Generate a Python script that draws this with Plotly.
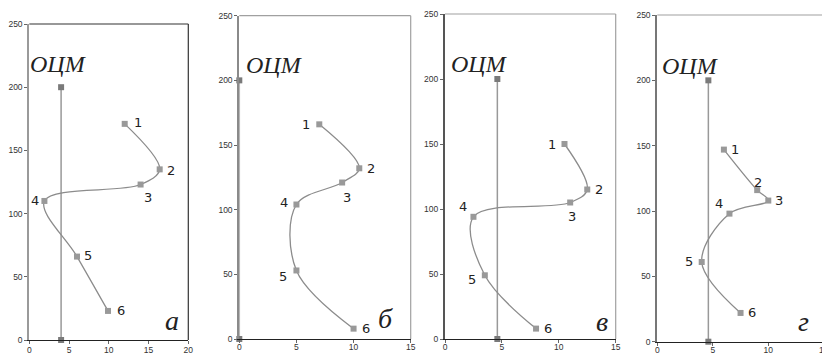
import plotly.graph_objects as go

# ---- data ----
panel_letters = ["а", "б", "в", "г"]
point_labels = ["1", "2", "3", "4", "5", "6"]

a_x = [12.0, 16.4, 14.0, 1.9, 6.0, 9.9]
a_y = [171, 135, 123, 110, 66, 23]
b_x = [7.0, 10.5, 9.0, 5.0, 5.0, 10.0]
b_y = [166, 132, 121, 104, 53, 8]
c_x = [10.5, 12.5, 11.0, 2.5, 3.5, 8.0]
c_y = [150, 115, 105, 94, 49, 8]
d_x = [6.0, 9.0, 10.0, 6.5, 4.0, 7.5]
d_y = [147, 116, 108, 98, 61, 22]

ocm_x = [4.0, 0.0, 4.6, 4.6]          # ОЦМ vertical position per panel
ocm_y = [0, 200]                       # ОЦМ bottom and top
x_ticks = [[0, 5, 10, 15, 20], [0, 5, 10, 15], [0, 5, 10, 15], [0, 5, 10]]
y_ticks = [0, 50, 100, 150, 200, 250]

# label offsets (px) for points 1..6 in each panel
label_dx = [[13, 11, 7, -9, 11, 13], [-13, 12, 5, -12, -13, 12],
            [-12, 12, 2, -10, -13, 12], [11, 1, 11, -10, -13, 11]]
label_dy = [[1, -1, -13, 0, 1, 0], [0, 0, -15, 2, -6, 0],
            [0, 0, -14, 10, -4, 0], [0, 8, 0, 10, 0, 0]]

xs = [a_x, b_x, c_x, d_x]
ys = [a_y, b_y, c_y, d_y]

W, H = 822, 356
# pixel boxes: left, right, top, bottom
boxes = [(29.3, 188.3, 24, 340), (239.3, 410.7, 15.7, 339),
         (445, 615.7, 14, 339), (657.3, 822, 15, 341.7)]
x_range_max = [20, 15, 15, (822 - 657.3) / 11.1]
ocm_pos = [(58.3, 64), (274.7, 65), (479.5, 64), (690.5, 65.7)]   # px centres
letter_pos = [(171.7, 320), (385, 318), (601.7, 321.7), (803, 321.7)]
box_col = ["#333333", "#a0a0a0", "#a0a0a0", "#a0a0a0"]
left_col = ["#9a9a9a", "#8a8a8a", "#555555", "#777777"]
x_standoff = [-1, -3, -3, -3]

fig = go.Figure()
annotations = []
shapes = []
layout = {}
for i in range(4):
    sfx = "" if i == 0 else str(i + 1)
    xa, ya = "x" + sfx, "y" + sfx
    l, r, t, b = boxes[i]
    layout["xaxis" + sfx] = dict(
        domain=[l / W, r / W], range=[0, x_range_max[i]], anchor=ya,
        tickvals=x_ticks[i], ticks="outside", ticklen=3, tickcolor="#666",
        ticklabelstandoff=x_standoff[i],
        showline=True, linecolor="#222", linewidth=1.3, showgrid=False,
        zeroline=False, tickfont=dict(family="Liberation Sans", size=8.5, color="#333"),
        automargin=False, fixedrange=True)
    layout["yaxis" + sfx] = dict(
        domain=[1 - b / H, 1 - t / H], range=[0, 250], anchor=xa,
        tickvals=y_ticks, ticks="outside", ticklen=3, tickcolor="#666",
        showline=True, linecolor=left_col[i], linewidth=2, showgrid=False,
        zeroline=False, tickfont=dict(family="Liberation Sans", size=8.5, color="#333"),
        automargin=False, fixedrange=True)
    # top and right borders
    shapes.append(dict(type="line", xref=xa + " domain", yref=ya + " domain",
                       x0=0, x1=1, y0=1, y1=1, line=dict(color=box_col[i], width=1.2)))
    if i < 3:
        shapes.append(dict(type="line", xref=xa + " domain", yref=ya + " domain",
                           x0=1, x1=1, y0=0, y1=1, line=dict(color=box_col[i], width=1.2)))
    # ОЦМ line
    fig.add_trace(go.Scatter(
        x=[ocm_x[i], ocm_x[i]], y=ocm_y, xaxis=xa, yaxis=ya, mode="lines+markers",
        line=dict(color="#999999", width=1.5),
        marker=dict(symbol="square", size=6, color="#7a7a7a"),
        cliponaxis=False, showlegend=False, hoverinfo="skip"))
    # profile curve
    fig.add_trace(go.Scatter(
        x=xs[i], y=ys[i], xaxis=xa, yaxis=ya, mode="lines+markers",
        line=dict(color="#8c8c8c", width=1.3, shape="spline", smoothing=1.0),
        marker=dict(symbol="square", size=6, color="#999999"),
        cliponaxis=False, showlegend=False, hoverinfo="skip"))
    for k in range(6):
        annotations.append(dict(
            x=xs[i][k], y=ys[i][k], xref=xa, yref=ya, text=point_labels[k],
            showarrow=False, xshift=label_dx[i][k], yshift=label_dy[i][k],
            font=dict(family="DejaVu Sans", size=13, color="#222")))
    annotations.append(dict(
        x=ocm_pos[i][0] / W, y=1 - ocm_pos[i][1] / H, xref="paper", yref="paper",
        text="ОЦМ", showarrow=False, xanchor="center", yanchor="middle",
        font=dict(family="Liberation Serif", size=24, color="#222", style="italic")))
    annotations.append(dict(
        x=letter_pos[i][0] / W, y=1 - letter_pos[i][1] / H, xref="paper", yref="paper",
        text=panel_letters[i], showarrow=False, xanchor="center", yanchor="middle",
        font=dict(family="Liberation Serif", size=28, color="#222", style="italic")))

# partially visible "15" tick label at the right edge of panel г
annotations.append(dict(x=(657.3 + 15 * 11.1) / W, y=1 - 341.7 / H, xref="paper", yref="paper",
                        text="15", showarrow=False, xanchor="center", yanchor="top", yshift=-1,
                        font=dict(family="Liberation Sans", size=8.5, color="#333")))

fig.update_layout(width=W, height=H, margin=dict(l=0, r=0, t=0, b=0, autoexpand=False),
                  plot_bgcolor="white", paper_bgcolor="white",
                  annotations=annotations, shapes=shapes, **layout)
fig.write_html("out.html", config={"displayModeBar": False},
               post_script="document.body.style.margin='0';document.body.style.overflow='hidden';")
